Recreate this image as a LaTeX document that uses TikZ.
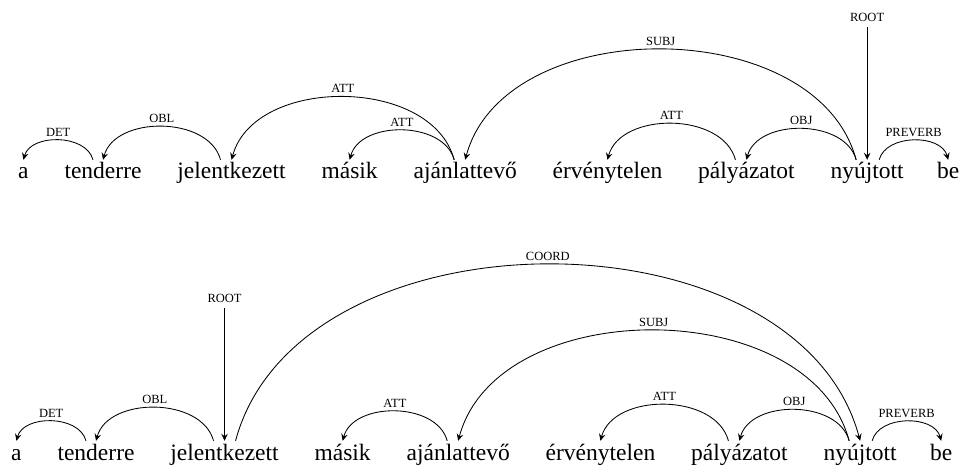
\documentclass[tikz,border=0pt]{standalone}
\usepackage{fontspec}
\setmainfont{Liberation Serif}
\usetikzlibrary{arrows.meta,calc}
\begin{document}
\begin{tikzpicture}[x=1pt,y=1pt,
 word/.style={font=\fontsize{23.5}{28}\selectfont, inner sep=0pt, text height=19pt, text depth=5pt, anchor=base west},
 lab/.style={font=\fontsize{12.5}{14}\selectfont, inner sep=3.5pt, text height=8.5pt, text depth=0pt},
 dep/.style={line width=0.85pt, -{Stealth[length=7pt,width=6.5pt,inset=2.5pt]}},
 lft/.style={dep, bend right=75},
 rgt/.style={dep, bend left=75}]
\useasboundingbox (0,0) rectangle (962,-468);
% top sentence
\node[word] (t1) at (18,-179) {a};
\node[word] (t2) at ($(t1.base east)+(35.5,0)$) {tenderre};
\node[word] (t3) at ($(t2.base east)+(35.5,0)$) {jelentkezett};
\node[word] (t4) at ($(t3.base east)+(35.5,0)$) {másik};
\node[word] (t5) at ($(t4.base east)+(35.5,0)$) {ajánlattevő};
\node[word] (t6) at ($(t5.base east)+(35.5,0)$) {érvénytelen};
\node[word] (t7) at ($(t6.base east)+(35.5,0)$) {pályázatot};
\node[word] (t8) at ($(t7.base east)+(35.5,0)$) {nyújtott};
\node[word] (t9) at ($(t8.base east)+(33,0)$) {be};
\draw[lft] ($(t2.north)+(-10,0)$) to node[lab,above]{DET} (t1.north);
\draw[lft] ($(t3.north)+(-11,0)$) to node[lab,above]{OBL} (t2.north);
\draw[lft] ($(t5.north)+(-11,0)$) to node[lab,above]{ATT} (t4.north);
\draw[lft] ($(t5.north)+(-11,0)$) to node[lab,above]{ATT} (t3.north);
\draw[lft] ($(t8.north)+(-11,0)$) to node[lab,above]{SUBJ} (t5.north);
\draw[lft] ($(t7.north)+(-11,0)$) to node[lab,above]{ATT} (t6.north);
\draw[lft] ($(t8.north)+(-11,0)$) to node[lab,above]{OBJ} (t7.north);
\draw[rgt] ($(t8.north)+(12,0)$) to node[lab,above]{PREVERB} (t9.north);
\node[lab] (r1) at (t8.center |- 0,-17) {ROOT};
\draw[dep] ([yshift=-2pt]r1.south) -- (t8.north);
% bottom sentence
\node[word] (b1) at (11,-460) {a};
\node[word] (b2) at ($(b1.base east)+(35.5,0)$) {tenderre};
\node[word] (b3) at ($(b2.base east)+(35.5,0)$) {jelentkezett};
\node[word] (b4) at ($(b3.base east)+(35.5,0)$) {másik};
\node[word] (b5) at ($(b4.base east)+(35.5,0)$) {ajánlattevő};
\node[word] (b6) at ($(b5.base east)+(35.5,0)$) {érvénytelen};
\node[word] (b7) at ($(b6.base east)+(35.5,0)$) {pályázatot};
\node[word] (b8) at ($(b7.base east)+(35.5,0)$) {nyújtott};
\node[word] (b9) at ($(b8.base east)+(33,0)$) {be};
\draw[lft] ($(b2.north)+(-10,0)$) to node[lab,above]{DET} (b1.north);
\draw[lft] ($(b3.north)+(-11,0)$) to node[lab,above]{OBL} (b2.north);
\node[lab] (r2) at (b3.center |- 0,-298) {ROOT};
\draw[dep] ([yshift=-2pt]r2.south) -- (b3.north);
\draw[rgt] ($(b3.north)+(11,0)$) to node[lab,above]{COORD} (b8.north);
\draw[lft] ($(b5.north)+(-11,0)$) to node[lab,above]{ATT} (b4.north);
\draw[lft] ($(b8.north)+(-11,0)$) to node[lab,above]{SUBJ} (b5.north);
\draw[lft] ($(b7.north)+(-11,0)$) to node[lab,above]{ATT} (b6.north);
\draw[lft] ($(b8.north)+(-11,0)$) to node[lab,above]{OBJ} (b7.north);
\draw[rgt] ($(b8.north)+(12,0)$) to node[lab,above]{PREVERB} (b9.north);
\end{tikzpicture}
\end{document}
